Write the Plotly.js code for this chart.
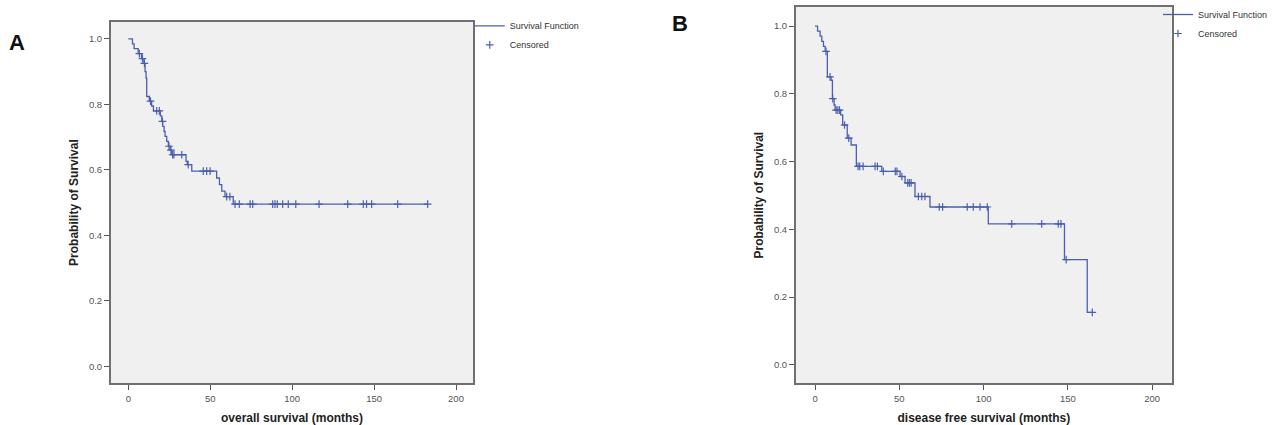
<!DOCTYPE html>
<html>
<head>
<meta charset="utf-8">
<script src="https://cdn.plot.ly/plotly-3.0.1.min.js"></script>
<style>
  html, body { margin: 0; padding: 0; background: #ffffff; }
  #chart { width: 1273px; height: 425px; }
</style>
</head>
<body>
<div id="chart"></div>
<script>
// ---------- Panel A: overall survival ----------
const osStepMonths = [0, 2.5, 3.5, 6.0, 8.0, 9.5, 10.2, 10.8, 11.2, 12.8, 14.2, 15.3, 19.5, 20.4, 21.0, 21.8, 22.4, 23.4, 24.4, 25.5, 26.5, 35.2, 36.0, 38.7, 53.9, 55.6, 57.0, 59.0, 64.0, 182.7];
const osStepSurv   = [1.0, 0.985, 0.97, 0.955, 0.94, 0.925, 0.90, 0.88, 0.824, 0.81, 0.795, 0.78, 0.765, 0.748, 0.733, 0.717, 0.702, 0.687, 0.672, 0.66, 0.646, 0.626, 0.616, 0.596, 0.575, 0.555, 0.535, 0.518, 0.495, 0.495];
const osCensMonths = [6.7, 8.6, 9.8, 13.5, 17.3, 18.9, 20.8, 24.8, 26.0, 27.0, 27.8, 32.6, 36.5, 45.7, 47.8, 49.9, 60.0, 62.0, 65.1, 67.7, 74.3, 75.9, 88.1, 89.5, 90.9, 94.2, 97.6, 102.2, 116.4, 133.9, 143.4, 145.4, 148.5, 164.4, 182.7];
const osCensSurv   = [0.955, 0.94, 0.925, 0.81, 0.78, 0.78, 0.748, 0.672, 0.66, 0.646, 0.646, 0.646, 0.616, 0.596, 0.596, 0.596, 0.518, 0.518, 0.495, 0.495, 0.495, 0.495, 0.495, 0.495, 0.495, 0.495, 0.495, 0.495, 0.495, 0.495, 0.495, 0.495, 0.495, 0.495, 0.495];

// ---------- Panel B: disease free survival ----------
const dfsStepMonths = [0, 1.5, 3.0, 4.0, 5.0, 6.0, 7.3, 9.5, 10.3, 11.3, 11.9, 15.2, 16.4, 19.1, 21.4, 24.5, 39.6, 50.4, 53.4, 59.3, 68.2, 102.8, 148.0, 161.5, 164.5];
const dfsStepSurv   = [1.0, 0.985, 0.97, 0.955, 0.94, 0.925, 0.85, 0.84, 0.786, 0.767, 0.752, 0.738, 0.708, 0.669, 0.649, 0.586, 0.571, 0.556, 0.537, 0.497, 0.466, 0.416, 0.311, 0.155, 0.155];
const dfsCensMonths = [6.5, 8.9, 10.5, 12.5, 13.5, 14.5, 17.5, 20.0, 25.5, 26.5, 28.5, 35.6, 37.0, 40.5, 47.6, 48.6, 51.5, 55.0, 56.0, 57.0, 61.3, 63.3, 65.2, 73.7, 75.7, 90.3, 93.9, 97.9, 102.2, 116.7, 134.5, 144.3, 145.9, 149.0, 164.5];
const dfsCensSurv   = [0.925, 0.85, 0.786, 0.752, 0.752, 0.752, 0.708, 0.669, 0.586, 0.586, 0.586, 0.586, 0.586, 0.571, 0.571, 0.571, 0.556, 0.537, 0.537, 0.537, 0.497, 0.497, 0.497, 0.466, 0.466, 0.466, 0.466, 0.466, 0.466, 0.416, 0.416, 0.416, 0.416, 0.311, 0.155];

const xTickVals = [0, 50, 100, 150, 200];
const yTickVals = [0, 0.2, 0.4, 0.6, 0.8, 1.0];
const legendNames = ["Survival Function", "Censored"];
const xTitles = ["overall survival (months)", "disease free survival (months)"];
const yTitle = "Probability of Survival";
const panelLabels = ["A", "B"];

const lineColor = "#4a5fb0";
const FONT = "Liberation Sans, Arial, sans-serif";

function stepTrace(x, y, xa, ya, lg) {
  return { type: "scatter", mode: "lines", x: x, y: y, xaxis: xa, yaxis: ya,
    line: { shape: "hv", color: lineColor, width: 1.3 },
    name: legendNames[0], legend: lg, hoverinfo: "skip" };
}
function censTrace(x, y, xa, ya, lg) {
  return { type: "scatter", mode: "markers", x: x, y: y, xaxis: xa, yaxis: ya,
    marker: { symbol: "cross-thin", size: 5.5, color: lineColor, line: { color: lineColor, width: 1.2 } },
    name: legendNames[1], legend: lg, hoverinfo: "skip" };
}

const data = [
  stepTrace(osStepMonths, osStepSurv, "x", "y", "legend"),
  censTrace(osCensMonths, osCensSurv, "x", "y", "legend"),
  stepTrace(dfsStepMonths, dfsStepSurv, "x2", "y2", "legend2"),
  censTrace(dfsCensMonths, dfsCensSurv, "x2", "y2", "legend2")
];

function xAxis(domain, range, title, anchor) {
  return { domain: domain, range: range, anchor: anchor, tickvals: xTickVals,
    ticks: "outside", ticklen: 5, tickwidth: 1, tickcolor: "#555",
    showline: true, linecolor: "#707070", linewidth: 2, mirror: true,
    showgrid: false, zeroline: false, automargin: false,
    tickfont: { family: FONT, size: 9.5, color: "#555" },
    title: { text: title, font: { family: FONT, size: 12, color: "#222", weight: "bold" }, standoff: 12 } };
}
function yAxis(domain, range, anchor) {
  return { domain: domain, range: range, anchor: anchor, tickvals: yTickVals, tickformat: ".1f",
    ticks: "outside", ticklen: 5, tickwidth: 1, tickcolor: "#555",
    showline: true, linecolor: "#707070", linewidth: 2, mirror: true,
    showgrid: false, zeroline: false, automargin: false,
    tickfont: { family: FONT, size: 9.5, color: "#555" },
    title: { text: yTitle, font: { family: FONT, size: 12, color: "#222", weight: "bold" }, standoff: 8 } };
}

const layout = {
  width: 1273, height: 425,
  margin: { l: 0, r: 0, t: 0, b: 0 },
  paper_bgcolor: "#ffffff",
  plot_bgcolor: "#f0f0f0",
  showlegend: true,
  xaxis:  xAxis([0.0872, 0.3716], [-10.6, 210.4], xTitles[0], "y"),
  yaxis:  yAxis([0.0988, 0.953], [-0.052, 1.052], "x"),
  xaxis2: xAxis([0.6253, 0.9204], [-11.3, 211.6], xTitles[1], "y2"),
  yaxis2: yAxis([0.0988, 0.988], [-0.054, 1.056], "x2"),
  legend: { x: 0.369, y: 0.978, xanchor: "left", yanchor: "top", bgcolor: "rgba(0,0,0,0)",
    font: { family: FONT, size: 9, color: "#333" }, tracegroupgap: 0, itemwidth: 30 },
  legend2: { x: 1.0, y: 1.005, xanchor: "right", yanchor: "top", bgcolor: "rgba(0,0,0,0)",
    font: { family: FONT, size: 9, color: "#333" }, tracegroupgap: 0, itemwidth: 30 },
  annotations: [
    { text: panelLabels[0], xref: "paper", yref: "paper", x: 0.0135, y: 0.905, xanchor: "center", yanchor: "middle",
      showarrow: false, font: { family: FONT, size: 22, color: "#111", weight: "bold" } },
    { text: panelLabels[1], xref: "paper", yref: "paper", x: 0.534, y: 0.948, xanchor: "center", yanchor: "middle",
      showarrow: false, font: { family: FONT, size: 22, color: "#111", weight: "bold" } }
  ]
};

Plotly.newPlot("chart", data, layout, { staticPlot: true, displayModeBar: false });
</script>
</body>
</html>
